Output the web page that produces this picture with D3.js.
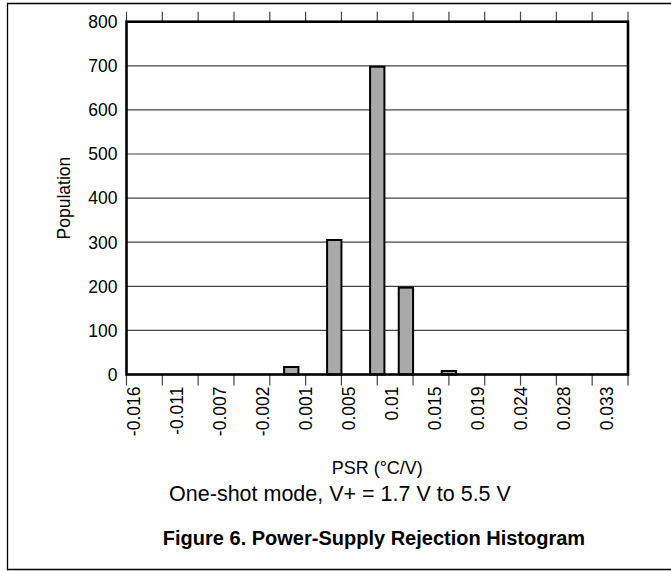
<!DOCTYPE html>
<html>
<head>
<meta charset="utf-8">
<script src="https://cdn.jsdelivr.net/npm/d3@7"></script>
<style>
  body { margin: 0; background: #fff; }
  text { font-family: "Liberation Sans", Arial, Helvetica, sans-serif; fill: #000; }
</style>
</head>
<body>
<div id="chart"></div>
<script>
// histogram bins (35 bins), counts
const counts = [0, 0, 0, 0, 0, 0, 0, 0, 0, 0, 0, 17, 0, 0, 305, 0, 0, 698, 0, 197, 0, 0, 8, 0, 0, 0, 0, 0, 0, 0, 0, 0, 0, 0, 0];
const tickLabels = ["-0.016", "-0.011", "-0.007", "-0.002", "0.001", "0.005", "0.01", "0.015", "0.019", "0.024", "0.028", "0.033"];
const labelEvery = 3;
const yTicks = [0, 100, 200, 300, 400, 500, 600, 700, 800];
const tickIntervals = 14;

const [width, height] = [671, 571];
const plot = { left: 126.5, right: 628, top: 21.7, bottom: 374.5 };

const svg = d3.select("#chart").append("svg").attr("width", width).attr("height", height);

// outer figure frame
svg.append("path")
  .attr("d", `M${width + 2},3.5 H7.5 V569.5 H${width + 2}`)
  .attr("fill", "none").attr("stroke", "#000").attr("stroke-width", 1.3);

const x = d3.scaleBand().domain(d3.range(counts.length)).range([plot.left, plot.right]).padding(0);
const y = d3.scaleLinear().domain([0, 800]).range([plot.bottom, plot.top]);
const xt = d3.scaleLinear().domain([0, tickIntervals]).range([plot.left, plot.right]);

// gridlines
svg.append("g").selectAll("line").data(yTicks.slice(1, -1)).enter().append("line")
  .attr("x1", plot.left).attr("x2", plot.right)
  .attr("y1", d => y(d)).attr("y2", d => y(d))
  .attr("stroke", "#444").attr("stroke-width", 1.2);

// top and bottom tick marks
const tickIdx = d3.range(tickIntervals + 1);
svg.append("g").selectAll("line").data(tickIdx).enter().append("line")
  .attr("x1", d => xt(d)).attr("x2", d => xt(d))
  .attr("y1", plot.top - 10).attr("y2", plot.top)
  .attr("stroke", "#444").attr("stroke-width", 1.2);
svg.append("g").selectAll("line").data(tickIdx).enter().append("line")
  .attr("x1", d => xt(d)).attr("x2", d => xt(d))
  .attr("y1", plot.bottom).attr("y2", plot.bottom + 11)
  .attr("stroke", "#444").attr("stroke-width", 1.2);

// bars
svg.append("g").selectAll("rect").data(counts.map((c, i) => ({ c, i })).filter(d => d.c > 0)).enter().append("rect")
  .attr("x", d => x(d.i))
  .attr("width", x.bandwidth())
  .attr("y", d => y(d.c))
  .attr("height", d => y(0) - y(d.c))
  .attr("fill", "#a9a9a9").attr("stroke", "#000").attr("stroke-width", 2);

// plot frame
svg.append("rect")
  .attr("x", plot.left).attr("y", plot.top)
  .attr("width", plot.right - plot.left).attr("height", plot.bottom - plot.top)
  .attr("fill", "none").attr("stroke", "#000").attr("stroke-width", 2.6);

// y labels
svg.append("g").selectAll("text").data(yTicks).enter().append("text")
  .attr("x", plot.left - 9).attr("y", d => y(d)).attr("dy", "0.36em")
  .attr("text-anchor", "end").attr("font-size", 17.5).text(d => d);

// x labels (rotated)
svg.append("g").selectAll("text").data(tickLabels).enter().append("text")
  .attr("transform", (d, i) => `translate(${x(i * labelEvery) + x.bandwidth() / 2},${plot.bottom + 12}) rotate(-90)`)
  .attr("dy", "0.36em").attr("text-anchor", "end").attr("font-size", 17.5).text(d => d);

svg.append("text")
  .attr("transform", `translate(64,${(plot.top + plot.bottom) / 2}) rotate(-90)`)
  .attr("dy", "0.36em").attr("text-anchor", "middle").attr("font-size", 17.5).text("Population");

svg.append("text").attr("x", (plot.left + plot.right) / 2).attr("y", 474)
  .attr("text-anchor", "middle").attr("font-size", 18).text("PSR (°C/V)");
svg.append("text").attr("x", 340).attr("y", 501)
  .attr("text-anchor", "middle").attr("font-size", 21.5).text("One-shot mode, V+ = 1.7 V to 5.5 V");
svg.append("text").attr("x", 374).attr("y", 545)
  .attr("text-anchor", "middle").attr("font-size", 20).attr("font-weight", "bold")
  .text("Figure 6. Power-Supply Rejection Histogram");
</script>
</body>
</html>
